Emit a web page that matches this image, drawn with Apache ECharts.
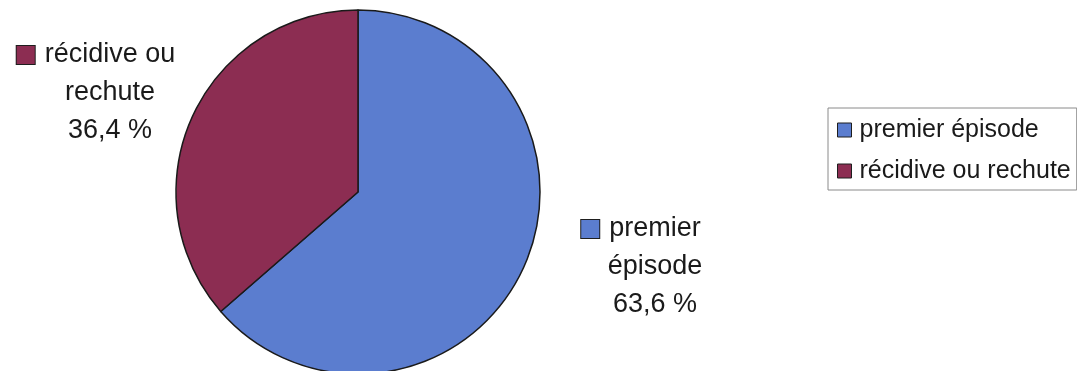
<!DOCTYPE html>
<html>
<head>
<meta charset="utf-8">
<script src="https://cdn.jsdelivr.net/npm/echarts@6/dist/echarts.min.js"></script>
<style>
  html, body { margin: 0; padding: 0; background: #ffffff; }
  #chart { width: 1077px; height: 371px; }
</style>
</head>
<body>
<div id="chart"></div>
<script>
// Categories and their shares (%)
const categories = ['premier épisode', 'récidive ou rechute'];
const shares = [63.6, 36.4];
// Wrapped label text for each slice
const labelLines = [['premier', 'épisode'], ['récidive ou', 'rechute']];
const colors = ['#5b7dcf', '#8c2d52'];

const FONT = '"Liberation Sans", Arial, sans-serif';

function fmtPct(v) {
  return v.toFixed(1).replace('.', ',') + ' %';
}

// Fixed spots for the two slice labels (text block centres)
const labelSpots = [
  { x: 655, y: 267 },
  { x: 110, y: 93 }
];

const chart = echarts.init(document.getElementById('chart'), null, { renderer: 'canvas' });

const richFor = (i) => ({
  m: {
    width: 18, height: 18,
    backgroundColor: colors[i],
    borderColor: '#1e1e1e', borderWidth: 1
  },
  g: { width: 10 },
  s: { width: 28 },
  t: { fontSize: 27, fontFamily: FONT, color: '#1a1a1a', lineHeight: 38 }
});

chart.setOption({
  backgroundColor: '#ffffff',
  animation: false,
  color: colors,
  legend: {
    orient: 'vertical',
    left: 828,
    top: 108,
    padding: [8, 6, 5, 9],
    itemGap: 13,
    itemWidth: 14,
    itemHeight: 14,
    icon: 'rect',
    borderColor: '#8a8a8a',
    borderWidth: 1,
    itemStyle: { borderColor: '#1e1e1e', borderWidth: 1 },
    textStyle: {
      fontFamily: FONT, fontSize: 25, color: '#1a1a1a',
      lineHeight: 28, padding: [0, 0, 0, 3]
    },
    data: categories
  },
  series: [{
    type: 'pie',
    center: [358, 192],
    radius: 182,
    startAngle: 90,
    clockwise: true,
    itemStyle: { borderColor: '#1a1a1a', borderWidth: 1.5 },
    emphasis: { disabled: true },
    labelLine: { show: false },
    label: { show: true, overflow: 'none' },
    labelLayout: function (p) {
      const s = labelSpots[p.dataIndex];
      return { x: s.x, y: s.y, align: 'center', verticalAlign: 'middle' };
    },
    data: categories.map((name, i) => ({
      name: name,
      value: shares[i],
      label: {
        show: true,
        align: 'center',
        overflow: 'none',
        lineHeight: 38,
        formatter: () => '{m|}{g|}{t|' + labelLines[i][0] + '}{s|}\n{t|' + labelLines[i][1] + '}\n{t|' + fmtPct(shares[i]) + '}',
        rich: richFor(i)
      }
    }))
  }]
});
</script>
</body>
</html>
